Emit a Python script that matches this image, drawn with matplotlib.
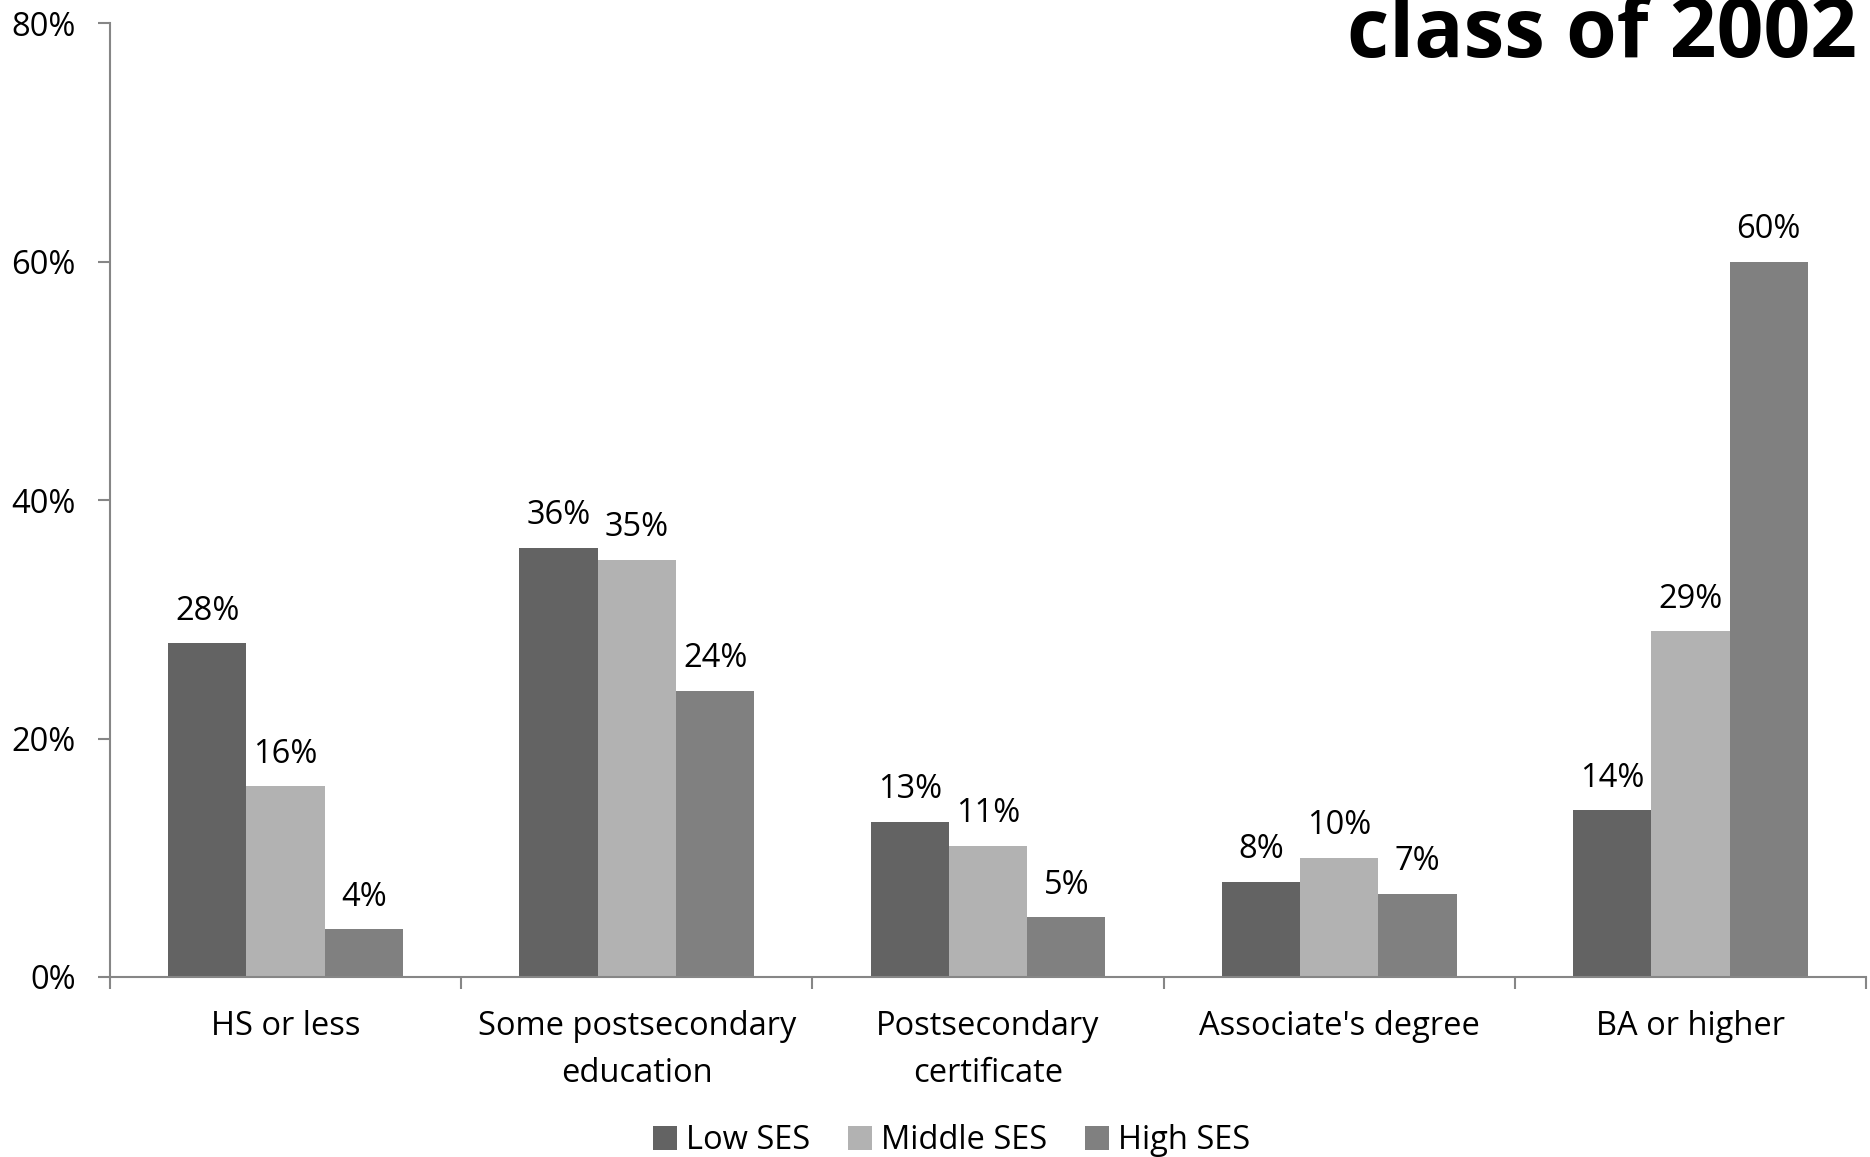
import matplotlib.pyplot as plt
import numpy as np

plt.rcParams['font.family'] = ['Open Sans', 'DejaVu Sans']

categories = ['HS or less', 'Some postsecondary\neducation', 'Postsecondary\ncertificate',
              "Associate's degree", 'BA or higher']
series = ['Low SES', 'Middle SES', 'High SES']
low = [28, 36, 13, 8, 14]
middle = [16, 35, 11, 10, 29]
high = [4, 24, 5, 7, 60]
colors = ['#636363', '#b2b2b2', '#808080']

fig = plt.figure(figsize=(18.7, 11.57), dpi=100)
ax = fig.add_axes([0.0588, 0.1556, 0.9391, 0.8244])

x = np.arange(len(categories))
w = 0.223
fs = 23.5
for i, (vals, c, name) in enumerate(zip([low, middle, high], colors, series)):
    pos = x + (i - 1) * w
    ax.bar(pos, vals, w, color=c, label=name, zorder=2)
    for p, v in zip(pos, vals):
        ax.text(p, v + 1.3, f'{v}%', ha='center', va='bottom', fontsize=fs)

ax.set_xlim(-0.5, 4.5)
ax.set_ylim(0, 80)
ax.set_yticks([0, 20, 40, 60, 80])
ax.set_yticklabels([f'{t}%' for t in [0, 20, 40, 60, 80]])
ax.set_xticks(x)
ax.set_xticklabels(categories, linespacing=1.55)
ax.set_xticks(np.arange(-0.5, 5, 1), minor=True)
ax.tick_params(axis='x', which='major', length=0, pad=24, labelsize=fs)
ax.tick_params(axis='x', which='minor', length=8.6, width=1.5, color='#868686')
ax.tick_params(axis='y', length=8.6, width=1.5, color='#868686', pad=16, labelsize=fs)

for s in ['top', 'right']:
    ax.spines[s].set_visible(False)
for s in ['left', 'bottom']:
    ax.spines[s].set_color('#868686')
    ax.spines[s].set_linewidth(1.5)

fig.legend(loc='center', bbox_to_anchor=(0.509, 0.014), ncol=3, frameon=False,
           fontsize=fs, handlelength=0.72, handleheight=0.72, handletextpad=0.3,
           columnspacing=1.15)

fig.text(0.993, 0.9507, 'class of 2002', ha='right', va='baseline',
         fontsize=59, fontweight='bold')

fig.savefig('out.png', dpi=100)
